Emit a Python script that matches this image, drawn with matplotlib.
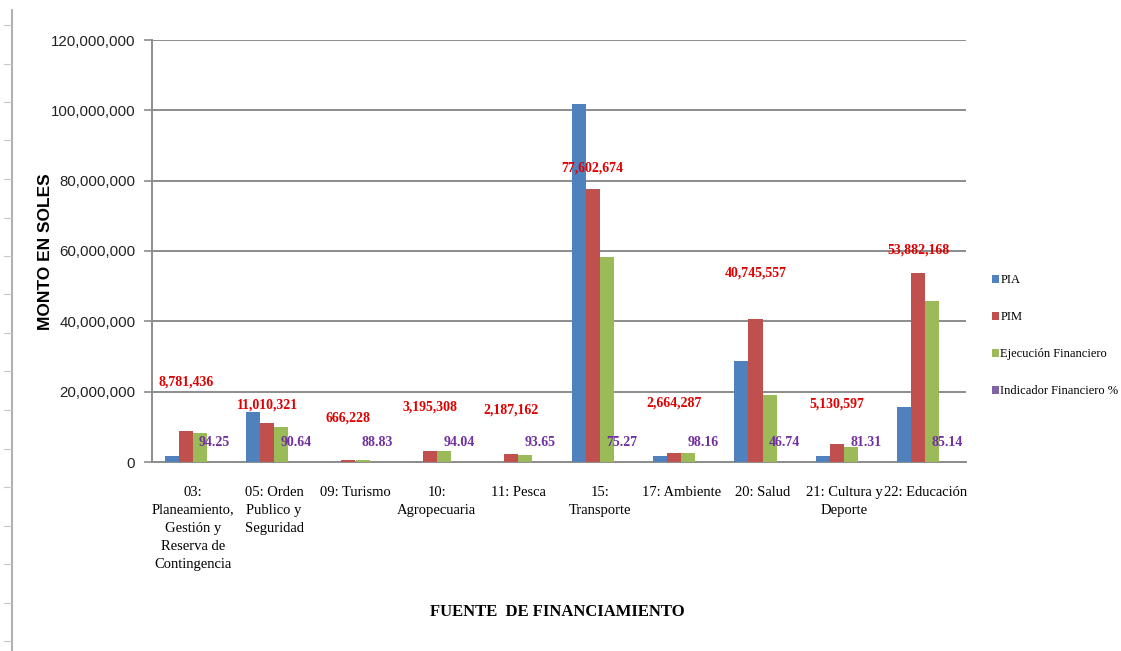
import numpy as np
import matplotlib
matplotlib.use("Agg")
import matplotlib.pyplot as plt
from matplotlib import font_manager
from matplotlib.lines import Line2D
from matplotlib.ticker import FuncFormatter

#=======================================================
# Data
#=======================================================

categorias = [
    "03:\nPlaneamiento,\nGestión y\nReserva de\nContingencia",
    "05: Orden\nPublico y\nSeguridad",
    "09: Turismo",
    "10:\nAgropecuaria",
    "11: Pesca",
    "15:\nTransporte",
    "17: Ambiente",
    "20: Salud",
    "21: Cultura y\nDeporte",
    "22: Educación",
]

pia = [1700000, 14200000, 0, 0, 0, 101800000, 1700000, 28700000, 1700000, 15600000]
pim = [8781436, 11010321, 666228, 3195308, 2187162, 77602674, 2664287, 40745557, 5130597, 53882168]
ejecucion = [8276503, 9979755, 591810, 3004868, 2048277, 58411532, 2615264, 19044473, 4171688, 45875278]
indicador = [94.25, 90.64, 88.83, 94.04, 93.65, 75.27, 98.16, 46.74, 81.31, 85.14]

series_names = ["PIA", "PIM", "Ejecución Financiero", "Indicador Financiero %"]

# offsets (pixels) of the PIM labels above the red bars
pim_label_dy = [49, 18, 42, 44, 44, 21, 50, 46, 40, 22]

#=======================================================
# Style
#=======================================================

colors = ["#4F81BD", "#C0504D", "#9BBB59", "#8064A2"]
grid_gray = "#8C8C8C"

available = {f.name for f in font_manager.fontManager.ttflist}
sans = "Liberation Sans Narrow" if "Liberation Sans Narrow" in available else "Liberation Sans"
tick_size = 12.5 if sans == "Liberation Sans Narrow" else 10.8
serif = "Liberation Serif"

#=======================================================
# Plot
#=======================================================

fig = plt.figure(figsize=(11.21, 6.51), dpi=100)
ax = fig.add_axes([152/1121, 1 - 462/651, (966-152)/1121, (462-40)/651])

x = np.arange(len(categorias))
w = 0.172
all_series = [pia, pim, ejecucion, indicador]
for i, (vals, c, name) in enumerate(zip(all_series, colors, series_names)):
    ax.bar(x + (i - 1.5)*w, vals, width=w, color=c, label=name, zorder=3)

# PIM labels in red
for xi, v, dy in zip(x, pim, pim_label_dy):
    ax.annotate(f"{v:,}", (xi - 0.5*w, v), xytext=(0, dy), textcoords="offset pixels",
                ha="center", va="center", color="#E00000", fontsize=10,
                fontweight="bold", family=serif, zorder=5)

# indicator labels in purple
for xi, v in zip(x, indicador):
    ax.annotate(f"{v:.2f}", (xi + 1.5*w, v), xytext=(1, 19), textcoords="offset pixels",
                ha="center", va="center", color="#7030A0", fontsize=10,
                fontweight="bold", family=serif, zorder=5)

ax.set_xlim(-0.5, len(categorias) - 0.5)
ax.set_ylim(0, 120000000)
ax.set_yticks(np.arange(0, 120000001, 20000000))
ax.yaxis.set_major_formatter(FuncFormatter(lambda v, p: f"{int(v):,}"))
ax.grid(axis="y", color=grid_gray, linewidth=1.4, zorder=0)

for s in ["top", "right"]:
    ax.spines[s].set_visible(False)
for s in ["left", "bottom"]:
    ax.spines[s].set_color(grid_gray)
    ax.spines[s].set_linewidth(1.4)

ax.tick_params(axis="y", direction="out", length=6, color=grid_gray, width=1.2,
               labelsize=tick_size, pad=6)
for lab in ax.get_yticklabels():
    lab.set_family(sans)
    lab.set_color("#222222")

ax.set_xticks(x)
ax.set_xticklabels(categorias, family=serif, fontsize=10.5, linespacing=1.5)
ax.tick_params(axis="x", length=0, pad=17)

fig.text(46/1121, 1 - 252/651, "MONTO EN SOLES", rotation=90, ha="center", va="center",
         fontsize=12.5, fontweight="bold", family="Liberation Sans")
fig.text(557/1121, 1 - 612/651, "FUENTE  DE FINANCIAMIENTO", ha="center", va="center",
         fontsize=12, fontweight="bold", family=serif)

ax.legend(loc="upper left", bbox_to_anchor=(986/1121, 1 - 268/651),
          bbox_transform=fig.transFigure, frameon=False, borderpad=0,
          handlelength=0.55, handleheight=0.55, handletextpad=0.1,
          labelspacing=2.0, prop={"family": serif, "size": 9})

# ruler artefact on the left edge of the screenshot
fig.add_artist(Line2D([12/1121, 12/1121], [0, 1 - 10/651], transform=fig.transFigure,
                      color="#A0A0A0", linewidth=1.2))
for ty in np.arange(25, 651, 38.5):
    fig.add_artist(Line2D([4/1121, 11/1121], [1 - ty/651, 1 - ty/651],
                          transform=fig.transFigure, color="#C8C8C8", linewidth=0.8))

plt.savefig("out.png", dpi=100)
